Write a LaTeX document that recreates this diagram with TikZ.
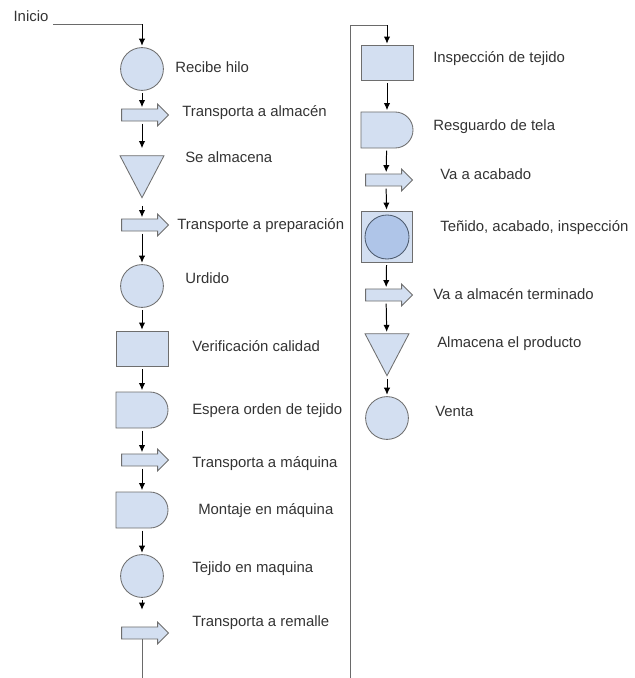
\documentclass[tikz,border=0pt]{standalone}
\usepackage{fontspec}
\setmainfont{Liberation Sans}
\usepackage{tikz}
\usetikzlibrary{shapes,arrows,arrows.meta,positioning,calc}
\definecolor{shapefill}{HTML}{D3DFF1}
\definecolor{shapeline}{HTML}{6E6E6E}
\definecolor{innerfill}{HTML}{AFC5E8}
\definecolor{innerline}{HTML}{4D5B6E}
\definecolor{txtgray}{HTML}{333333}
\definecolor{wiregray}{HTML}{6A6A6A}
\tikzset{
operation/.style = {draw=shapeline, fill=shapefill, circle, minimum size=1.07cm, inner sep=0pt, line width=0.6pt},
transport/.style = {draw=shapeline, fill=shapefill, single arrow, minimum height=1.17cm, inner xsep=0pt, inner ysep=0.14cm, single arrow head extend=0.12cm, line width=0.6pt},
storage/.style = {draw=shapeline, fill=shapefill, isosceles triangle, isosceles triangle stretches, shape border rotate=270, minimum width=1.1cm, minimum height=1.05cm, inner sep=0pt, line width=0.6pt},
inspection/.style = {draw=shapeline, fill=shapefill, rectangle, minimum width=1.3cm, minimum height=0.875cm, inner sep=0pt, line width=0.6pt},
waiting/.style = {draw=shapeline, fill=shapefill, rounded rectangle, rounded rectangle west arc=none, minimum width=1.3cm, minimum height=0.9cm, inner sep=0pt, line width=0.6pt},
combined/.style = {draw=innerline, fill=innerfill, circle, minimum size=1.1cm, inner sep=0pt, line width=0.6pt},
lbl/.style = {anchor=west, inner sep=0pt, text=txtgray, font=\fontsize{10.6}{12}\selectfont, text height=1.5ex, text depth=0.3ex},
flow/.style = {->, black, line width=0.7pt, shorten <=1.5pt, shorten >=1pt},
wire/.style = {wiregray, line width=0.7pt},
}

\begin{document}
\begin{tikzpicture}[>={Latex[length=5pt,width=4.5pt]}, x=0.025cm, y=-0.025cm]
        \useasboundingbox (0,0) rectangle (634,678);
        \node [lbl, anchor=center] (inicio) at (31,17) {Inicio};
        \coordinate (start) at (53,24);
        \coordinate (lcorner) at (142,24);
        %left column
        \node [operation] (c1) at (142,69) {};
        \node [lbl] at (175,68) {Recibe hilo};
        \node [transport] (t1) at (142,115) {};
        \node [lbl] at (182,112) {Transporta a almacén};
        \node [storage] (s1) at (142,169) {};
        \node [lbl] at (185,158) {Se almacena};
        \node [transport] (t2) at (142,225) {};
        \node [lbl] at (177,225) {Transporte a preparación};
        \node [operation] (c2) at (142,286) {};
        \node [lbl] at (185,279) {Urdido};
        \node [inspection] (r1) at (142,349) {};
        \node [lbl] at (192,347) {Verificación calidad};
        \node [waiting] (d1) at (142,410) {};
        \node [lbl] at (192,410) {Espera orden de tejido};
        \node [transport] (t3) at (142,460) {};
        \node [lbl] at (192,463) {Transporta a máquina};
        \node [waiting] (d2) at (142,510) {};
        \node [lbl] at (198,510) {Montaje en máquina};
        \node [operation] (c3) at (142,576) {};
        \node [lbl] at (192,568) {Tejido en maquina};
        \node [transport] (t4) at (142,633) {};
        \node [lbl] at (192,622) {Transporta a remalle};
        \coordinate (leftend) at (142,678);
        %right column
        \coordinate (rightend) at (350,678);
        \coordinate (righttop) at (350,25);
        \coordinate (rcorner) at (387,25);
        \node [inspection] (r2) at (387,63) {};
        \node [lbl] at (433,58) {Inspección de tejido};
        \node [waiting] (d3) at (387,130) {};
        \node [lbl] at (433,126) {Resguardo de tela};
        \node [transport] (t5) at (386,180) {};
        \node [lbl] at (440,175) {Va a acabado};
        \node [inspection, minimum width=1.275cm, minimum height=1.275cm] (sq) at (387,237) {};
        \node [combined] (sqc) at (sq.center) {};
        \node [lbl] at (440,227) {Teñido, acabado, inspección};
        \node [transport] (t6) at (386,295) {};
        \node [lbl] at (433,295) {Va a almacén terminado};
        \node [storage] (s2) at (387,347) {};
        \node [lbl] at (437,343) {Almacena el producto};
        \node [operation] (c4) at (387,418) {};
        \node [lbl] at (435,412) {Venta};

        \draw [wire] (start) -- (lcorner);
        \draw [flow, shorten <=0pt] (lcorner) -- (c1);
        \draw [flow] (c1) -- (t1);
        \draw [flow, shorten >=5pt] (t1) -- (s1);
        \draw [flow, shorten <=5pt] (s1) -- (t2);
        \draw [flow] (t2) -- (c2);
        \draw [flow] (c2) -- (r1);
        \draw [flow] (r1) -- (d1);
        \draw [flow] (d1) -- (t3);
        \draw [flow] (t3) -- (d2);
        \draw [flow] (d2) -- (c3);
        \draw [flow, shorten >=12pt] (c3) -- (t4);
        \draw [wire] (t4) -- (leftend);
        \draw [wire] (rightend) -- (righttop) -- (rcorner);
        \draw [flow, shorten <=0pt] (rcorner) -- (r2);
        \draw [flow] (r2) -- (d3);
        \draw [flow] (d3) -- (t5);
        \draw [flow] (t5) -- (sq);
        \draw [flow] (sq) -- (t6);
        \draw [flow] (t6) -- (s2);
        \draw [flow] (s2) -- (c4);
\end{tikzpicture}
\end{document}
